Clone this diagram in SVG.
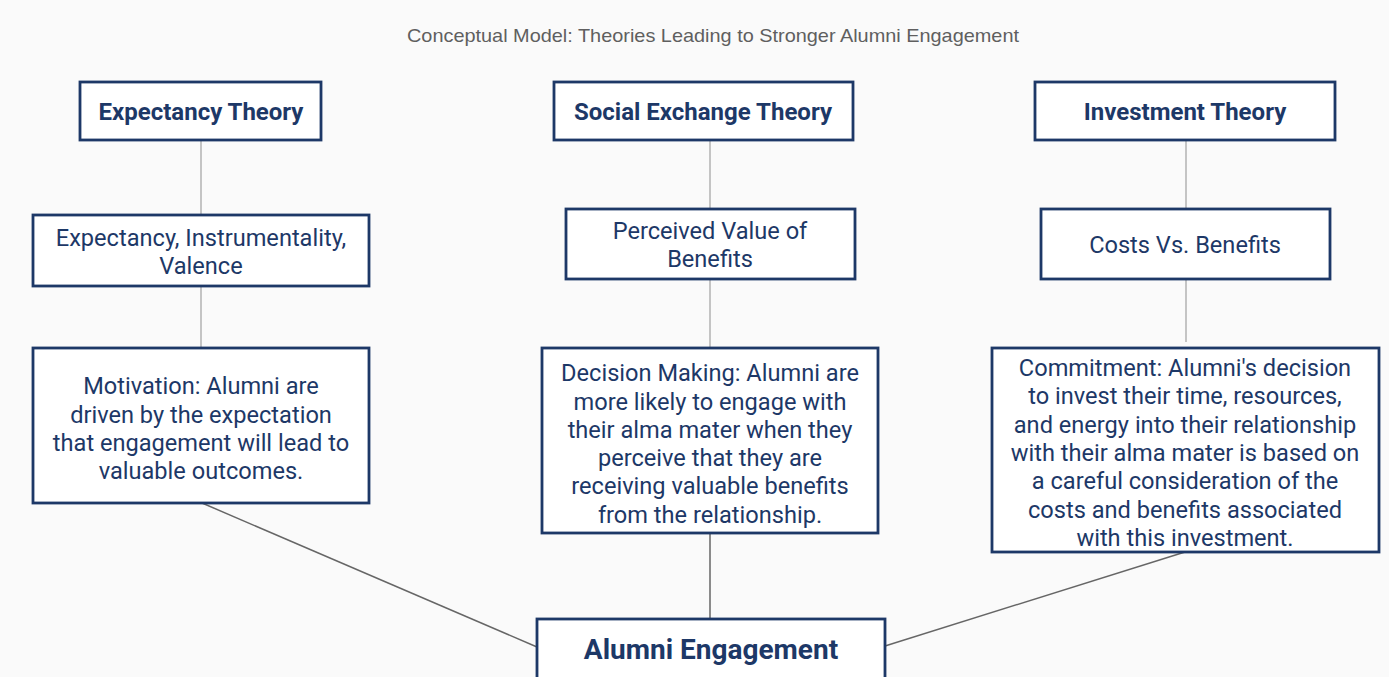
<svg xmlns="http://www.w3.org/2000/svg" width="1389" height="677" viewBox="0 0 1389 677">
  <style>
    .box { fill: #ffffff; stroke: #1d3867; stroke-width: 2.8; }
    .head { font-family: Roboto, "Liberation Sans", sans-serif; font-weight: bold; font-size: 24px; fill: #1d3867; text-anchor: middle; }
    .body { font-family: Roboto, "Liberation Sans", sans-serif; font-size: 23.6px; fill: #1d3867; text-anchor: middle; }
    .main { font-family: Roboto, "Liberation Sans", sans-serif; font-weight: bold; font-size: 28px; fill: #1d3867; text-anchor: middle; }
    .title { font-family: "Liberation Sans", Arial, sans-serif; font-size: 19px; fill: #5f5f5f; text-anchor: middle; }
    .link-light { stroke: #c4c4c4; stroke-width: 2; fill: none; }
    .link-dark { stroke: #666666; stroke-width: 1.5; fill: none; }
  </style>
  <rect width="1389" height="677" fill="#fafafa"/>
  <text class="title" x="713" y="42" textLength="612" lengthAdjust="spacingAndGlyphs">Conceptual Model: Theories Leading to Stronger Alumni Engagement</text>

  <g id="connectors">
    <line class="link-light" x1="201" y1="140" x2="201" y2="215"/>
    <line class="link-light" x1="201" y1="286" x2="201" y2="348"/>
    <line class="link-light" x1="710" y1="140" x2="710" y2="215"/>
    <line class="link-light" x1="710" y1="279" x2="710" y2="348"/>
    <line class="link-light" x1="1186" y1="140" x2="1186" y2="215"/>
    <line class="link-light" x1="1186" y1="279" x2="1186" y2="342"/>
    <line class="link-dark" x1="202" y1="503" x2="537" y2="647"/>
    <line class="link-dark" x1="710" y1="533" x2="710" y2="619"/>
    <line class="link-dark" x1="1185" y1="552" x2="885" y2="646"/>
  </g>

  <g id="expectancy-theory">
    <rect class="box" x="80" y="82" width="241" height="58"/>
    <text class="head" x="201" y="120">Expectancy Theory</text>
  </g>
  <g id="social-exchange-theory">
    <rect class="box" x="554" y="82" width="299" height="58"/>
    <text class="head" x="703" y="120">Social Exchange Theory</text>
  </g>
  <g id="investment-theory">
    <rect class="box" x="1035" y="82" width="300" height="58"/>
    <text class="head" x="1185" y="120">Investment Theory</text>
  </g>

  <g id="expectancy-factors">
    <rect class="box" x="33" y="215" width="336" height="71"/>
    <text class="body" x="201" y="246">Expectancy, Instrumentality,</text>
    <text class="body" x="201" y="274">Valence</text>
  </g>
  <g id="perceived-value">
    <rect class="box" x="566" y="209" width="289" height="70"/>
    <text class="body" x="710" y="239">Perceived Value of</text>
    <text class="body" x="710" y="267">Benefits</text>
  </g>
  <g id="costs-benefits">
    <rect class="box" x="1041" y="209" width="289" height="70"/>
    <text class="body" x="1185" y="253">Costs Vs. Benefits</text>
  </g>

  <g id="motivation">
    <rect class="box" x="33" y="348" width="336" height="155"/>
    <text class="body" x="201" y="394">Motivation: Alumni are</text>
    <text class="body" x="201" y="423">driven by the expectation</text>
    <text class="body" x="201" y="451">that engagement will lead to</text>
    <text class="body" x="201" y="479">valuable outcomes.</text>
  </g>
  <g id="decision-making">
    <rect class="box" x="542" y="348" width="336" height="185"/>
    <text class="body" x="710" y="381">Decision Making: Alumni are</text>
    <text class="body" x="710" y="410">more likely to engage with</text>
    <text class="body" x="710" y="438">their alma mater when they</text>
    <text class="body" x="710" y="466">perceive that they are</text>
    <text class="body" x="710" y="494">receiving valuable benefits</text>
    <text class="body" x="710" y="523">from the relationship.</text>
  </g>
  <g id="commitment">
    <rect class="box" x="992" y="348" width="387" height="204"/>
    <text class="body" x="1185" y="376">Commitment: Alumni's decision</text>
    <text class="body" x="1185" y="404">to invest their time, resources,</text>
    <text class="body" x="1185" y="433">and energy into their relationship</text>
    <text class="body" x="1185" y="461">with their alma mater is based on</text>
    <text class="body" x="1185" y="489">a careful consideration of the</text>
    <text class="body" x="1185" y="518">costs and benefits associated</text>
    <text class="body" x="1185" y="546">with this investment.</text>
  </g>

  <g id="alumni-engagement">
    <rect class="box" x="537" y="619" width="348" height="64"/>
    <text class="main" x="711" y="659">Alumni Engagement</text>
  </g>
</svg>
